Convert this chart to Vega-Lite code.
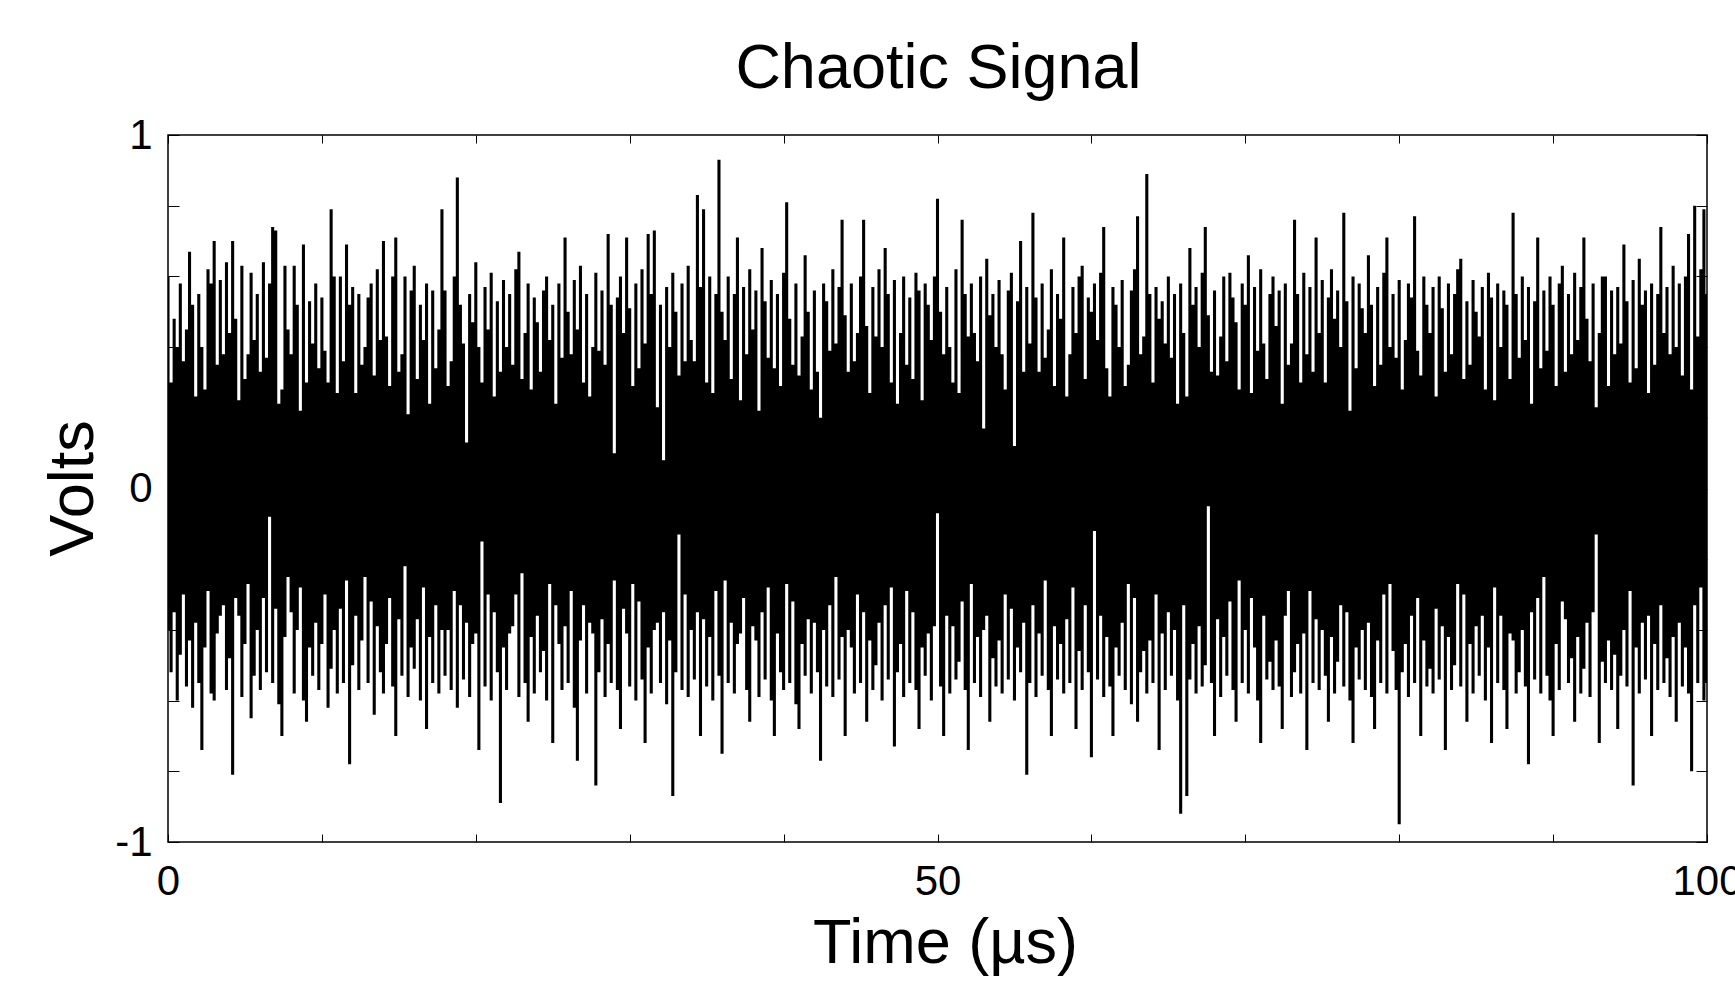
{
"$schema": "https://vega.github.io/schema/vega-lite/v6.json",
"width": 1539,
"height": 707,
"autosize": {"type": "none"},
"padding": {"left": 168, "top": 135, "right": 28, "bottom": 147},
"background": "#ffffff",
"config": {"view": {"stroke": "#000000", "strokeWidth": 1.5}, "font": "Liberation Sans"},
"data": {"values": [
{"t":0,"h":0.60,"l":-0.40},{"t":0.2,"h":0.30,"l":-0.52},{"t":0.4,"h":0.48,"l":-0.35},{"t":0.6,"h":0.40,"l":-0.60},{"t":0.8,"h":0.58,"l":-0.47},{"t":1,"h":0.36,"l":-0.30},{"t":1.2,"h":0.45,"l":-0.56},{"t":1.4,"h":0.67,"l":-0.43},{"t":1.6,"h":0.52,"l":-0.62},{"t":1.8,"h":0.26,"l":-0.38},
{"t":2,"h":0.55,"l":-0.55},{"t":2.2,"h":0.40,"l":-0.74},{"t":2.4,"h":0.28,"l":-0.45},{"t":2.6,"h":0.62,"l":-0.29},{"t":2.8,"h":0.58,"l":-0.58},{"t":3,"h":0.70,"l":-0.60},{"t":3.2,"h":0.35,"l":-0.41},{"t":3.4,"h":0.59,"l":-0.36},{"t":3.6,"h":0.38,"l":-0.33},{"t":3.8,"h":0.64,"l":-0.57},
{"t":4,"h":0.44,"l":-0.48},{"t":4.2,"h":0.70,"l":-0.81},{"t":4.4,"h":0.48,"l":-0.31},{"t":4.6,"h":0.25,"l":-0.36},{"t":4.8,"h":0.63,"l":-0.59},{"t":5,"h":0.31,"l":-0.44},{"t":5.2,"h":0.38,"l":-0.27},{"t":5.4,"h":0.61,"l":-0.65},{"t":5.6,"h":0.42,"l":-0.53},{"t":5.8,"h":0.55,"l":-0.40},
{"t":6,"h":0.33,"l":-0.57},{"t":6.2,"h":0.64,"l":-0.31},{"t":6.4,"h":0.37,"l":-0.52},{"t":6.6,"h":0.58,"l":-0.08},{"t":6.8,"h":0.74,"l":-0.55},{"t":7,"h":0.73,"l":-0.34},{"t":7.2,"h":0.24,"l":-0.61},{"t":7.4,"h":0.28,"l":-0.70},{"t":7.6,"h":0.63,"l":-0.42},{"t":7.8,"h":0.45,"l":-0.25},
{"t":8,"h":0.38,"l":-0.35},{"t":8.2,"h":0.63,"l":-0.58},{"t":8.4,"h":0.52,"l":-0.40},{"t":8.6,"h":0.22,"l":-0.28},{"t":8.8,"h":0.69,"l":-0.60},{"t":9,"h":0.30,"l":-0.66},{"t":9.2,"h":0.53,"l":-0.45},{"t":9.4,"h":0.41,"l":-0.53},{"t":9.6,"h":0.58,"l":-0.38},{"t":9.8,"h":0.34,"l":-0.57},
{"t":10,"h":0.54,"l":-0.44},{"t":10.2,"h":0.39,"l":-0.30},{"t":10.4,"h":0.30,"l":-0.62},{"t":10.6,"h":0.79,"l":-0.51},{"t":10.8,"h":0.60,"l":-0.40},{"t":11,"h":0.27,"l":-0.58},{"t":11.2,"h":0.60,"l":-0.34},{"t":11.4,"h":0.36,"l":-0.55},{"t":11.6,"h":0.69,"l":-0.26},{"t":11.8,"h":0.52,"l":-0.78},
{"t":12,"h":0.57,"l":-0.50},{"t":12.2,"h":0.27,"l":-0.36},{"t":12.4,"h":0.55,"l":-0.57},{"t":12.6,"h":0.35,"l":-0.43},{"t":12.8,"h":0.40,"l":-0.25},{"t":13,"h":0.54,"l":-0.55},{"t":13.2,"h":0.58,"l":-0.32},{"t":13.4,"h":0.32,"l":-0.64},{"t":13.6,"h":0.62,"l":-0.39},{"t":13.8,"h":0.42,"l":-0.52},
{"t":14,"h":0.70,"l":-0.58},{"t":14.2,"h":0.43,"l":-0.44},{"t":14.4,"h":0.29,"l":-0.31},{"t":14.6,"h":0.60,"l":-0.56},{"t":14.8,"h":0.71,"l":-0.70},{"t":15,"h":0.33,"l":-0.37},{"t":15.2,"h":0.38,"l":-0.53},{"t":15.4,"h":0.60,"l":-0.22},{"t":15.6,"h":0.21,"l":-0.59},{"t":15.8,"h":0.56,"l":-0.45},
{"t":16,"h":0.63,"l":-0.51},{"t":16.2,"h":0.31,"l":-0.37},{"t":16.4,"h":0.52,"l":-0.60},{"t":16.6,"h":0.42,"l":-0.28},{"t":16.8,"h":0.58,"l":-0.68},{"t":17,"h":0.24,"l":-0.42},{"t":17.2,"h":0.56,"l":-0.55},{"t":17.4,"h":0.34,"l":-0.33},{"t":17.6,"h":0.45,"l":-0.58},{"t":17.8,"h":0.79,"l":-0.40},
{"t":18,"h":0.56,"l":-0.53},{"t":18.2,"h":0.29,"l":-0.40},{"t":18.4,"h":0.36,"l":-0.57},{"t":18.6,"h":0.60,"l":-0.29},{"t":18.8,"h":0.88,"l":-0.62},{"t":19,"h":0.52,"l":-0.33},{"t":19.2,"h":0.41,"l":-0.54},{"t":19.4,"h":0.13,"l":-0.38},{"t":19.6,"h":0.55,"l":-0.59},{"t":19.8,"h":0.47,"l":-0.44},
{"t":20,"h":0.64,"l":-0.41},{"t":20.2,"h":0.40,"l":-0.74},{"t":20.4,"h":0.30,"l":-0.15},{"t":20.6,"h":0.57,"l":-0.56},{"t":20.8,"h":0.45,"l":-0.30},{"t":21,"h":0.61,"l":-0.60},{"t":21.2,"h":0.26,"l":-0.35},{"t":21.4,"h":0.53,"l":-0.52},{"t":21.6,"h":0.33,"l":-0.89},{"t":21.8,"h":0.59,"l":-0.45},
{"t":22,"h":0.40,"l":-0.57},{"t":22.2,"h":0.55,"l":-0.41},{"t":22.4,"h":0.35,"l":-0.39},{"t":22.6,"h":0.62,"l":-0.30},{"t":22.8,"h":0.67,"l":-0.59},{"t":23,"h":0.31,"l":-0.24},{"t":23.2,"h":0.44,"l":-0.55},{"t":23.4,"h":0.58,"l":-0.66},{"t":23.6,"h":0.28,"l":-0.42},{"t":23.8,"h":0.54,"l":-0.58},
{"t":24,"h":0.47,"l":-0.36},{"t":24.2,"h":0.33,"l":-0.52},{"t":24.4,"h":0.56,"l":-0.46},{"t":24.6,"h":0.60,"l":-0.60},{"t":24.8,"h":0.42,"l":-0.27},{"t":25,"h":0.52,"l":-0.72},{"t":25.2,"h":0.24,"l":-0.33},{"t":25.4,"h":0.58,"l":-0.44},{"t":25.6,"h":0.37,"l":-0.57},{"t":25.8,"h":0.71,"l":-0.39},
{"t":26,"h":0.50,"l":-0.55},{"t":26.2,"h":0.38,"l":-0.29},{"t":26.4,"h":0.59,"l":-0.62},{"t":26.6,"h":0.45,"l":-0.77},{"t":26.8,"h":0.63,"l":-0.43},{"t":27,"h":0.30,"l":-0.33},{"t":27.2,"h":0.55,"l":-0.58},{"t":27.4,"h":0.26,"l":-0.38},{"t":27.6,"h":0.40,"l":-0.41},{"t":27.8,"h":0.61,"l":-0.84},
{"t":28,"h":0.39,"l":-0.52},{"t":28.2,"h":0.56,"l":-0.37},{"t":28.4,"h":0.35,"l":-0.59},{"t":28.6,"h":0.72,"l":-0.44},{"t":28.8,"h":0.52,"l":-0.55},{"t":29,"h":0.10,"l":-0.26},{"t":29.2,"h":0.54,"l":-0.57},{"t":29.4,"h":0.60,"l":-0.68},{"t":29.6,"h":0.44,"l":-0.34},{"t":29.8,"h":0.71,"l":-0.41},
{"t":30,"h":0.51,"l":-0.56},{"t":30.2,"h":0.29,"l":-0.27},{"t":30.4,"h":0.58,"l":-0.60},{"t":30.6,"h":0.34,"l":-0.32},{"t":30.8,"h":0.62,"l":-0.54},{"t":31,"h":0.41,"l":-0.72},{"t":31.2,"h":0.72,"l":-0.45},{"t":31.4,"h":0.55,"l":-0.58},{"t":31.6,"h":0.73,"l":-0.40},{"t":31.8,"h":0.23,"l":-0.38},
{"t":32,"h":0.52,"l":-0.55},{"t":32.2,"h":0.08,"l":-0.35},{"t":32.4,"h":0.57,"l":-0.61},{"t":32.6,"h":0.40,"l":-0.43},{"t":32.8,"h":0.61,"l":-0.87},{"t":33,"h":0.50,"l":-0.52},{"t":33.2,"h":0.32,"l":-0.13},{"t":33.4,"h":0.58,"l":-0.57},{"t":33.6,"h":0.36,"l":-0.30},{"t":33.8,"h":0.63,"l":-0.59},
{"t":34,"h":0.42,"l":-0.40},{"t":34.2,"h":0.36,"l":-0.54},{"t":34.4,"h":0.83,"l":-0.35},{"t":34.6,"h":0.57,"l":-0.70},{"t":34.8,"h":0.79,"l":-0.37},{"t":35,"h":0.30,"l":-0.56},{"t":35.2,"h":0.60,"l":-0.42},{"t":35.4,"h":0.27,"l":-0.60},{"t":35.6,"h":0.55,"l":-0.29},{"t":35.8,"h":0.93,"l":-0.53},
{"t":36,"h":0.50,"l":-0.75},{"t":36.2,"h":0.42,"l":-0.26},{"t":36.4,"h":0.60,"l":-0.55},{"t":36.6,"h":0.31,"l":-0.38},{"t":36.8,"h":0.55,"l":-0.58},{"t":37,"h":0.71,"l":-0.44},{"t":37.2,"h":0.25,"l":-0.41},{"t":37.4,"h":0.57,"l":-0.31},{"t":37.6,"h":0.38,"l":-0.57},{"t":37.8,"h":0.62,"l":-0.66},
{"t":38,"h":0.45,"l":-0.39},{"t":38.2,"h":0.56,"l":-0.43},{"t":38.4,"h":0.22,"l":-0.59},{"t":38.6,"h":0.68,"l":-0.35},{"t":38.8,"h":0.53,"l":-0.54},{"t":39,"h":0.37,"l":-0.28},{"t":39.2,"h":0.59,"l":-0.60},{"t":39.4,"h":0.34,"l":-0.70},{"t":39.6,"h":0.55,"l":-0.41},{"t":39.8,"h":0.29,"l":-0.52},
{"t":40,"h":0.61,"l":-0.57},{"t":40.2,"h":0.81,"l":-0.27},{"t":40.4,"h":0.48,"l":-0.55},{"t":40.6,"h":0.35,"l":-0.32},{"t":40.8,"h":0.58,"l":-0.61},{"t":41,"h":0.32,"l":-0.68},{"t":41.2,"h":0.43,"l":-0.44},{"t":41.4,"h":0.66,"l":-0.53},{"t":41.6,"h":0.50,"l":-0.37},{"t":41.8,"h":0.28,"l":-0.58},
{"t":42,"h":0.56,"l":-0.38},{"t":42.2,"h":0.33,"l":-0.52},{"t":42.4,"h":0.20,"l":-0.77},{"t":42.6,"h":0.58,"l":-0.40},{"t":42.8,"h":0.53,"l":-0.56},{"t":43,"h":0.39,"l":-0.33},{"t":43.2,"h":0.62,"l":-0.59},{"t":43.4,"h":0.41,"l":-0.25},{"t":43.6,"h":0.57,"l":-0.54},{"t":43.8,"h":0.76,"l":-0.42},
{"t":44,"h":0.49,"l":-0.70},{"t":44.2,"h":0.33,"l":-0.40},{"t":44.4,"h":0.58,"l":-0.45},{"t":44.6,"h":0.36,"l":-0.58},{"t":44.8,"h":0.44,"l":-0.30},{"t":45,"h":0.60,"l":-0.55},{"t":45.2,"h":0.76,"l":-0.35},{"t":45.4,"h":0.46,"l":-0.66},{"t":45.6,"h":0.27,"l":-0.43},{"t":45.8,"h":0.57,"l":-0.57},
{"t":46,"h":0.43,"l":-0.50},{"t":46.2,"h":0.62,"l":-0.38},{"t":46.4,"h":0.40,"l":-0.60},{"t":46.6,"h":0.68,"l":-0.33},{"t":46.8,"h":0.55,"l":-0.54},{"t":47,"h":0.30,"l":-0.28},{"t":47.2,"h":0.59,"l":-0.73},{"t":47.4,"h":0.24,"l":-0.52},{"t":47.6,"h":0.44,"l":-0.44},{"t":47.8,"h":0.60,"l":-0.59},
{"t":48,"h":0.35,"l":-0.29},{"t":48.2,"h":0.54,"l":-0.55},{"t":48.4,"h":0.31,"l":-0.35},{"t":48.6,"h":0.61,"l":-0.57},{"t":48.8,"h":0.56,"l":-0.68},{"t":49,"h":0.25,"l":-0.45},{"t":49.2,"h":0.58,"l":-0.53},{"t":49.4,"h":0.52,"l":-0.41},{"t":49.6,"h":0.42,"l":-0.60},{"t":49.8,"h":0.60,"l":-0.39},
{"t":50,"h":0.82,"l":-0.07},{"t":50.2,"h":0.50,"l":-0.56},{"t":50.4,"h":0.38,"l":-0.70},{"t":50.6,"h":0.57,"l":-0.36},{"t":50.8,"h":0.40,"l":-0.58},{"t":51,"h":0.30,"l":-0.39},{"t":51.2,"h":0.62,"l":-0.54},{"t":51.4,"h":0.27,"l":-0.49},{"t":51.6,"h":0.76,"l":-0.32},{"t":51.8,"h":0.55,"l":-0.57},
{"t":52,"h":0.43,"l":-0.74},{"t":52.2,"h":0.58,"l":-0.27},{"t":52.4,"h":0.44,"l":-0.55},{"t":52.6,"h":0.36,"l":-0.42},{"t":52.8,"h":0.60,"l":-0.59},{"t":53,"h":0.17,"l":-0.40},{"t":53.2,"h":0.65,"l":-0.36},{"t":53.4,"h":0.49,"l":-0.66},{"t":53.6,"h":0.55,"l":-0.48},{"t":53.8,"h":0.40,"l":-0.56},
{"t":54,"h":0.59,"l":-0.43},{"t":54.2,"h":0.38,"l":-0.58},{"t":54.4,"h":0.28,"l":-0.30},{"t":54.6,"h":0.56,"l":-0.54},{"t":54.8,"h":0.61,"l":-0.34},{"t":55,"h":0.12,"l":-0.60},{"t":55.2,"h":0.53,"l":-0.45},{"t":55.4,"h":0.70,"l":-0.52},{"t":55.6,"h":0.33,"l":-0.38},{"t":55.8,"h":0.57,"l":-0.81},
{"t":56,"h":0.41,"l":-0.55},{"t":56.2,"h":0.78,"l":-0.33},{"t":56.4,"h":0.54,"l":-0.59},{"t":56.6,"h":0.33,"l":-0.41},{"t":56.8,"h":0.58,"l":-0.53},{"t":57,"h":0.37,"l":-0.26},{"t":57.2,"h":0.45,"l":-0.57},{"t":57.4,"h":0.62,"l":-0.70},{"t":57.6,"h":0.29,"l":-0.39},{"t":57.8,"h":0.55,"l":-0.54},
{"t":58,"h":0.48,"l":-0.44},{"t":58.2,"h":0.71,"l":-0.58},{"t":58.4,"h":0.26,"l":-0.37},{"t":58.6,"h":0.38,"l":-0.55},{"t":58.8,"h":0.57,"l":-0.28},{"t":59,"h":0.44,"l":-0.68},{"t":59.2,"h":0.60,"l":-0.46},{"t":59.4,"h":0.63,"l":-0.57},{"t":59.6,"h":0.31,"l":-0.33},{"t":59.8,"h":0.54,"l":-0.52},
{"t":60,"h":0.50,"l":-0.76},{"t":60.2,"h":0.58,"l":-0.12},{"t":60.4,"h":0.42,"l":-0.54},{"t":60.6,"h":0.61,"l":-0.36},{"t":60.8,"h":0.74,"l":-0.59},{"t":61,"h":0.34,"l":-0.42},{"t":61.2,"h":0.26,"l":-0.56},{"t":61.4,"h":0.57,"l":-0.70},{"t":61.6,"h":0.52,"l":-0.45},{"t":61.8,"h":0.40,"l":-0.53},
{"t":62,"h":0.59,"l":-0.38},{"t":62.2,"h":0.29,"l":-0.57},{"t":62.4,"h":0.35,"l":-0.27},{"t":62.6,"h":0.56,"l":-0.61},{"t":62.8,"h":0.62,"l":-0.31},{"t":63,"h":0.77,"l":-0.66},{"t":63.2,"h":0.38,"l":-0.52},{"t":63.4,"h":0.43,"l":-0.46},{"t":63.6,"h":0.89,"l":-0.58},{"t":63.8,"h":0.55,"l":-0.43},
{"t":64,"h":0.30,"l":-0.55},{"t":64.2,"h":0.57,"l":-0.30},{"t":64.4,"h":0.48,"l":-0.74},{"t":64.6,"h":0.53,"l":-0.41},{"t":64.8,"h":0.41,"l":-0.57},{"t":65,"h":0.60,"l":-0.35},{"t":65.2,"h":0.37,"l":-0.53},{"t":65.4,"h":0.55,"l":-0.40},{"t":65.6,"h":0.24,"l":-0.60},{"t":65.8,"h":0.58,"l":-0.92},
{"t":66,"h":0.44,"l":-0.33},{"t":66.2,"h":0.26,"l":-0.87},{"t":66.4,"h":0.68,"l":-0.54},{"t":66.6,"h":0.52,"l":-0.44},{"t":66.8,"h":0.57,"l":-0.58},{"t":67,"h":0.40,"l":-0.39},{"t":67.2,"h":0.61,"l":-0.56},{"t":67.4,"h":0.74,"l":-0.50},{"t":67.6,"h":0.49,"l":-0.05},{"t":67.8,"h":0.33,"l":-0.55},
{"t":68,"h":0.56,"l":-0.70},{"t":68.2,"h":0.32,"l":-0.37},{"t":68.4,"h":0.43,"l":-0.59},{"t":68.6,"h":0.60,"l":-0.42},{"t":68.8,"h":0.36,"l":-0.53},{"t":69,"h":0.61,"l":-0.32},{"t":69.2,"h":0.54,"l":-0.57},{"t":69.4,"h":0.47,"l":-0.66},{"t":69.6,"h":0.28,"l":-0.26},{"t":69.8,"h":0.58,"l":-0.55},
{"t":70,"h":0.52,"l":-0.40},{"t":70.2,"h":0.66,"l":-0.58},{"t":70.4,"h":0.27,"l":-0.31},{"t":70.6,"h":0.57,"l":-0.45},{"t":70.8,"h":0.39,"l":-0.60},{"t":71,"h":0.62,"l":-0.72},{"t":71.2,"h":0.41,"l":-0.36},{"t":71.4,"h":0.31,"l":-0.54},{"t":71.6,"h":0.55,"l":-0.49},{"t":71.8,"h":0.60,"l":-0.57},
{"t":72,"h":0.46,"l":-0.43},{"t":72.2,"h":0.56,"l":-0.56},{"t":72.4,"h":0.24,"l":-0.68},{"t":72.6,"h":0.58,"l":-0.36},{"t":72.8,"h":0.35,"l":-0.29},{"t":73,"h":0.41,"l":-0.59},{"t":73.2,"h":0.76,"l":-0.52},{"t":73.4,"h":0.55,"l":-0.44},{"t":73.6,"h":0.30,"l":-0.58},{"t":73.8,"h":0.61,"l":-0.41},
{"t":74,"h":0.38,"l":-0.74},{"t":74.2,"h":0.57,"l":-0.29},{"t":74.4,"h":0.33,"l":-0.55},{"t":74.6,"h":0.71,"l":-0.37},{"t":74.8,"h":0.44,"l":-0.57},{"t":75,"h":0.59,"l":-0.40},{"t":75.2,"h":0.30,"l":-0.53},{"t":75.4,"h":0.54,"l":-0.66},{"t":75.6,"h":0.62,"l":-0.42},{"t":75.8,"h":0.48,"l":-0.58},
{"t":76,"h":0.56,"l":-0.49},{"t":76.2,"h":0.40,"l":-0.33},{"t":76.4,"h":0.78,"l":-0.56},{"t":76.6,"h":0.53,"l":-0.35},{"t":76.8,"h":0.22,"l":-0.60},{"t":77,"h":0.60,"l":-0.72},{"t":77.2,"h":0.34,"l":-0.45},{"t":77.4,"h":0.58,"l":-0.54},{"t":77.6,"h":0.51,"l":-0.40},{"t":77.8,"h":0.44,"l":-0.57},
{"t":78,"h":0.66,"l":-0.38},{"t":78.2,"h":0.52,"l":-0.59},{"t":78.4,"h":0.29,"l":-0.68},{"t":78.6,"h":0.57,"l":-0.43},{"t":78.8,"h":0.35,"l":-0.55},{"t":79,"h":0.61,"l":-0.30},{"t":79.2,"h":0.71,"l":-0.58},{"t":79.4,"h":0.40,"l":-0.27},{"t":79.6,"h":0.55,"l":-0.46},{"t":79.8,"h":0.37,"l":-0.57},
{"t":80,"h":0.59,"l":-0.95},{"t":80.2,"h":0.28,"l":-0.52},{"t":80.4,"h":0.42,"l":-0.44},{"t":80.6,"h":0.58,"l":-0.59},{"t":80.8,"h":0.54,"l":-0.36},{"t":81,"h":0.77,"l":-0.55},{"t":81.2,"h":0.39,"l":-0.31},{"t":81.4,"h":0.32,"l":-0.70},{"t":81.6,"h":0.60,"l":-0.43},{"t":81.8,"h":0.52,"l":-0.56},
{"t":82,"h":0.44,"l":-0.51},{"t":82.2,"h":0.57,"l":-0.58},{"t":82.4,"h":0.26,"l":-0.34},{"t":82.6,"h":0.60,"l":-0.54},{"t":82.8,"h":0.51,"l":-0.39},{"t":83,"h":0.33,"l":-0.74},{"t":83.2,"h":0.58,"l":-0.42},{"t":83.4,"h":0.38,"l":-0.57},{"t":83.6,"h":0.55,"l":-0.50},{"t":83.8,"h":0.62,"l":-0.27},
{"t":84,"h":0.65,"l":-0.56},{"t":84.2,"h":0.31,"l":-0.30},{"t":84.4,"h":0.53,"l":-0.66},{"t":84.6,"h":0.35,"l":-0.44},{"t":84.8,"h":0.59,"l":-0.58},{"t":85,"h":0.50,"l":-0.39},{"t":85.2,"h":0.43,"l":-0.53},{"t":85.4,"h":0.57,"l":-0.36},{"t":85.6,"h":0.28,"l":-0.60},{"t":85.8,"h":0.61,"l":-0.45},
{"t":86,"h":0.54,"l":-0.72},{"t":86.2,"h":0.25,"l":-0.28},{"t":86.4,"h":0.58,"l":-0.55},{"t":86.6,"h":0.40,"l":-0.36},{"t":86.8,"h":0.56,"l":-0.57},{"t":87,"h":0.52,"l":-0.68},{"t":87.2,"h":0.31,"l":-0.41},{"t":87.4,"h":0.78,"l":-0.43},{"t":87.6,"h":0.55,"l":-0.58},{"t":87.8,"h":0.37,"l":-0.52},
{"t":88,"h":0.60,"l":-0.40},{"t":88.2,"h":0.42,"l":-0.56},{"t":88.4,"h":0.57,"l":-0.78},{"t":88.6,"h":0.24,"l":-0.35},{"t":88.8,"h":0.53,"l":-0.54},{"t":89,"h":0.71,"l":-0.31},{"t":89.2,"h":0.34,"l":-0.58},{"t":89.4,"h":0.56,"l":-0.25},{"t":89.6,"h":0.39,"l":-0.53},{"t":89.8,"h":0.60,"l":-0.60},
{"t":90,"h":0.52,"l":-0.70},{"t":90.2,"h":0.29,"l":-0.44},{"t":90.4,"h":0.58,"l":-0.57},{"t":90.6,"h":0.63,"l":-0.32},{"t":90.8,"h":0.33,"l":-0.37},{"t":91,"h":0.55,"l":-0.55},{"t":91.2,"h":0.38,"l":-0.48},{"t":91.4,"h":0.61,"l":-0.66},{"t":91.6,"h":0.42,"l":-0.42},{"t":91.8,"h":0.57,"l":-0.58},
{"t":92,"h":0.71,"l":-0.51},{"t":92.2,"h":0.48,"l":-0.38},{"t":92.4,"h":0.36,"l":-0.59},{"t":92.6,"h":0.58,"l":-0.35},{"t":92.8,"h":0.23,"l":-0.13},{"t":93,"h":0.44,"l":-0.72},{"t":93.2,"h":0.60,"l":-0.49},{"t":93.4,"h":0.60,"l":-0.55},{"t":93.6,"h":0.29,"l":-0.43},{"t":93.8,"h":0.56,"l":-0.57},
{"t":94,"h":0.38,"l":-0.47},{"t":94.2,"h":0.57,"l":-0.68},{"t":94.4,"h":0.41,"l":-0.53},{"t":94.6,"h":0.69,"l":-0.40},{"t":94.8,"h":0.53,"l":-0.56},{"t":95,"h":0.30,"l":-0.29},{"t":95.2,"h":0.59,"l":-0.84},{"t":95.4,"h":0.34,"l":-0.45},{"t":95.6,"h":0.65,"l":-0.58},{"t":95.8,"h":0.52,"l":-0.38},
{"t":96,"h":0.56,"l":-0.54},{"t":96.2,"h":0.27,"l":-0.36},{"t":96.4,"h":0.58,"l":-0.70},{"t":96.6,"h":0.35,"l":-0.44},{"t":96.8,"h":0.55,"l":-0.57},{"t":97,"h":0.74,"l":-0.33},{"t":97.2,"h":0.44,"l":-0.55},{"t":97.4,"h":0.57,"l":-0.48},{"t":97.6,"h":0.38,"l":-0.59},{"t":97.8,"h":0.63,"l":-0.42},
{"t":98,"h":0.40,"l":-0.66},{"t":98.2,"h":0.58,"l":-0.38},{"t":98.4,"h":0.32,"l":-0.56},{"t":98.6,"h":0.60,"l":-0.45},{"t":98.8,"h":0.72,"l":-0.58},{"t":99,"h":0.28,"l":-0.80},{"t":99.2,"h":0.80,"l":-0.33},{"t":99.4,"h":0.43,"l":-0.55},{"t":99.6,"h":0.62,"l":-0.28},{"t":99.8,"h":0.79,"l":-0.60},
{"t":100,"h":0.55,"l":-0.55}
]},
"resolve": {"axis": {"x": "independent", "y": "independent"}},
"layer": [
{
"mark": {"type": "area", "color": "#000000", "interpolate": "step"},
"encoding": {
"x": {"field": "t", "type": "quantitative", "scale": {"domain": [0, 100], "nice": false, "zero": false},
"axis": {"orient": "bottom", "values": [0, 50, 100], "ticks": false, "domain": false, "grid": false, "labelFont": "Liberation Sans", "labelFontSize": 42, "labelColor": "#000000", "labelPadding": 19, "labelFlush": false, "labelOverlap": false, "labelBound": false, "title": "Time (µs)", "titleFont": "Liberation Sans", "titleFontSize": 63, "titleFontWeight": "normal", "titleColor": "#000000", "titleX": 777, "titleY": 120, "titleBaseline": "alphabetic", "titleAlign": "center", "titleAnchor": null}},
"y": {"field": "h", "type": "quantitative", "scale": {"domain": [-1, 1], "nice": false, "zero": false},
"axis": {"orient": "left", "values": [-1, 0, 1], "labelExpr": "datum.value < -0.5 ? '-1' : (datum.value > 0.5 ? '1' : '0')", "ticks": false, "domain": false, "grid": false, "labelFont": "Liberation Sans", "labelFontSize": 42, "labelColor": "#000000", "labelPadding": 16, "labelFlush": false, "labelOverlap": false, "labelBound": false, "labelBaseline": "middle", "title": "Volts", "titleFont": "Liberation Sans", "titleFontSize": 63, "titleFontWeight": "normal", "titleColor": "#000000", "titleX": -76, "titleY": 353, "titleAngle": 270, "titleBaseline": "alphabetic", "titleAlign": "center", "titleAnchor": null}},
"y2": {"field": "l"}
}
},
{
"mark": {"type": "point", "opacity": 0},
"encoding": {
"x": {"field": "t", "type": "quantitative", "axis": {"orient": "bottom", "values": [0,10,20,30,40,50,60,70,80,90,100], "labels": false, "domain": false, "grid": false, "ticks": true, "tickSize": -8, "tickWidth": 1, "tickColor": "#000000", "title": null}},
"y": {"field": "h", "type": "quantitative", "axis": {"orient": "left", "values": [-1,-0.8,-0.6,-0.4,-0.2,0,0.2,0.4,0.6,0.8,1], "labels": false, "domain": false, "grid": false, "ticks": true, "tickSize": -11, "tickWidth": 1, "tickColor": "#000000", "title": null}}
}
},
{
"mark": {"type": "point", "opacity": 0},
"encoding": {
"x": {"field": "t", "type": "quantitative", "axis": {"orient": "top", "values": [0,10,20,30,40,50,60,70,80,90,100], "labels": false, "domain": false, "grid": false, "ticks": true, "tickSize": -8, "tickWidth": 1, "tickColor": "#000000", "title": "Chaotic Signal", "titleFont": "Liberation Sans", "titleFontSize": 63, "titleFontWeight": "normal", "titleColor": "#000000", "titleX": 770, "titleY": -48, "titleBaseline": "alphabetic", "titleAlign": "center", "titleAnchor": null}},
"y": {"field": "h", "type": "quantitative", "axis": {"orient": "right", "values": [-1,-0.8,-0.6,-0.4,-0.2,0,0.2,0.4,0.6,0.8,1], "labels": false, "domain": false, "grid": false, "ticks": true, "tickSize": -11, "tickWidth": 1, "tickColor": "#000000", "title": null}}
}
}
]
}
